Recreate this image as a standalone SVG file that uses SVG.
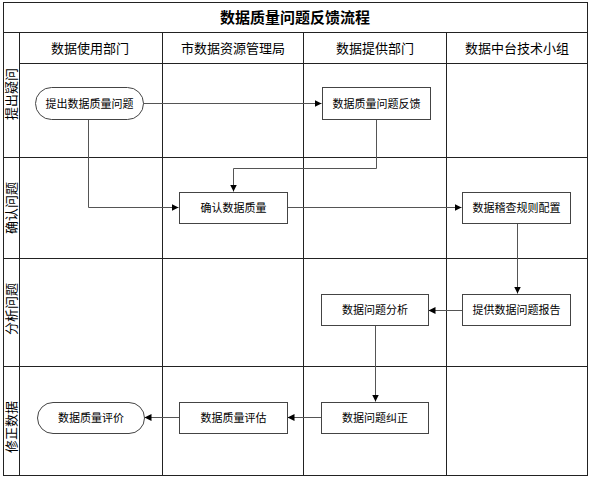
<svg xmlns="http://www.w3.org/2000/svg" width="590" height="477" viewBox="0 0 590 477">
<defs>
<marker id="arr" viewBox="0 0 10 10" refX="10" refY="5" markerWidth="7" markerHeight="7" markerUnits="userSpaceOnUse" orient="auto">
<path d="M0,0 L10,5 L0,10 z" fill="#000"/>
</marker>
<style>
.grid{stroke:#222;stroke-width:1;fill:none}
.box{fill:#fff;stroke:#444;stroke-width:1}
.t{font-family:"Liberation Sans","Noto Sans CJK SC",sans-serif;font-size:11px;fill:#000;text-anchor:middle;dominant-baseline:central}
.h{font-family:"Liberation Sans","Noto Sans CJK SC",sans-serif;font-size:13px;fill:#000;text-anchor:middle;dominant-baseline:central}
.title{font-family:"Liberation Sans","Noto Sans CJK SC",sans-serif;font-size:15px;font-weight:bold;fill:#000;text-anchor:middle;dominant-baseline:central}
.c{stroke:#555;stroke-width:1;fill:none;marker-end:url(#arr)}
</style>
</defs>
<rect width="590" height="477" fill="#fff"/>
<g id="frame">
<rect class="grid" x="3.5" y="2.5" width="584" height="473"/>
<line class="grid" x1="3.5" y1="32.5" x2="587.5" y2="32.5"/>
<line class="grid" x1="19.5" y1="63.5" x2="587.5" y2="63.5"/>
<line class="grid" x1="3.5" y1="157.5" x2="587.5" y2="157.5"/>
<line class="grid" x1="3.5" y1="258.5" x2="587.5" y2="258.5"/>
<line class="grid" x1="3.5" y1="366.5" x2="587.5" y2="366.5"/>
<line class="grid" x1="19.5" y1="32.5" x2="19.5" y2="475.5"/>
<line class="grid" x1="162.5" y1="32.5" x2="162.5" y2="475.5"/>
<line class="grid" x1="303.5" y1="32.5" x2="303.5" y2="475.5"/>
<line class="grid" x1="446.5" y1="32.5" x2="446.5" y2="475.5"/>
<text class="title" x="295" y="17">数据质量问题反馈流程</text>
<text class="h" x="90" y="48">数据使用部门</text>
<text class="h" x="233" y="48">市数据资源管理局</text>
<text class="h" x="375" y="48">数据提供部门</text>
<text class="h" x="517" y="48">数据中台技术小组</text>
<text class="h" transform="translate(11,94) rotate(-90)">提出疑问</text>
<text class="h" transform="translate(11,208) rotate(-90)">确认问题</text>
<text class="h" transform="translate(11,309) rotate(-90)">分析问题</text>
<text class="h" transform="translate(11,427) rotate(-90)">修正数据</text>
</g>
<g id="connectors">
<path class="c" d="M143,103.5 H321.5"/>
<path class="c" d="M88.5,119 V207.5 H178.5"/>
<path class="c" d="M376.5,119 V168.5 H233.5 V191.5"/>
<path class="c" d="M287,207.5 H461.5"/>
<path class="c" d="M517.5,223 V293.5"/>
<path class="c" d="M462,310.5 H428.5"/>
<path class="c" d="M375.5,326 V401.5"/>
<path class="c" d="M321,417.5 H287.5"/>
<path class="c" d="M179,417.5 H144.5"/>
</g>
<g id="n1"><rect class="box" x="35.5" y="87.5" width="108" height="32" rx="16"/><text class="t" x="89.5" y="103.5">提出数据质量问题</text></g>
<g id="n2"><rect class="box" x="322.5" y="87.5" width="108" height="32"/><text class="t" x="376.5" y="103.5">数据质量问题反馈</text></g>
<g id="n3"><rect class="box" x="179.5" y="192.5" width="108" height="31"/><text class="t" x="233.5" y="208">确认数据质量</text></g>
<g id="n4"><rect class="box" x="462.5" y="192.5" width="108" height="31"/><text class="t" x="516.5" y="208">数据稽查规则配置</text></g>
<g id="n5"><rect class="box" x="462.5" y="294.5" width="108" height="31"/><text class="t" x="516.5" y="310">提供数据问题报告</text></g>
<g id="n6"><rect class="box" x="321.5" y="294.5" width="107" height="31"/><text class="t" x="375" y="310">数据问题分析</text></g>
<g id="n7"><rect class="box" x="321.5" y="402.5" width="107" height="31"/><text class="t" x="375" y="418">数据问题纠正</text></g>
<g id="n8"><rect class="box" x="179.5" y="402.5" width="108" height="31"/><text class="t" x="233.5" y="418">数据质量评估</text></g>
<g id="n9"><rect class="box" x="37.5" y="402.5" width="107" height="31" rx="15.5"/><text class="t" x="91" y="418">数据质量评价</text></g>
</svg>
